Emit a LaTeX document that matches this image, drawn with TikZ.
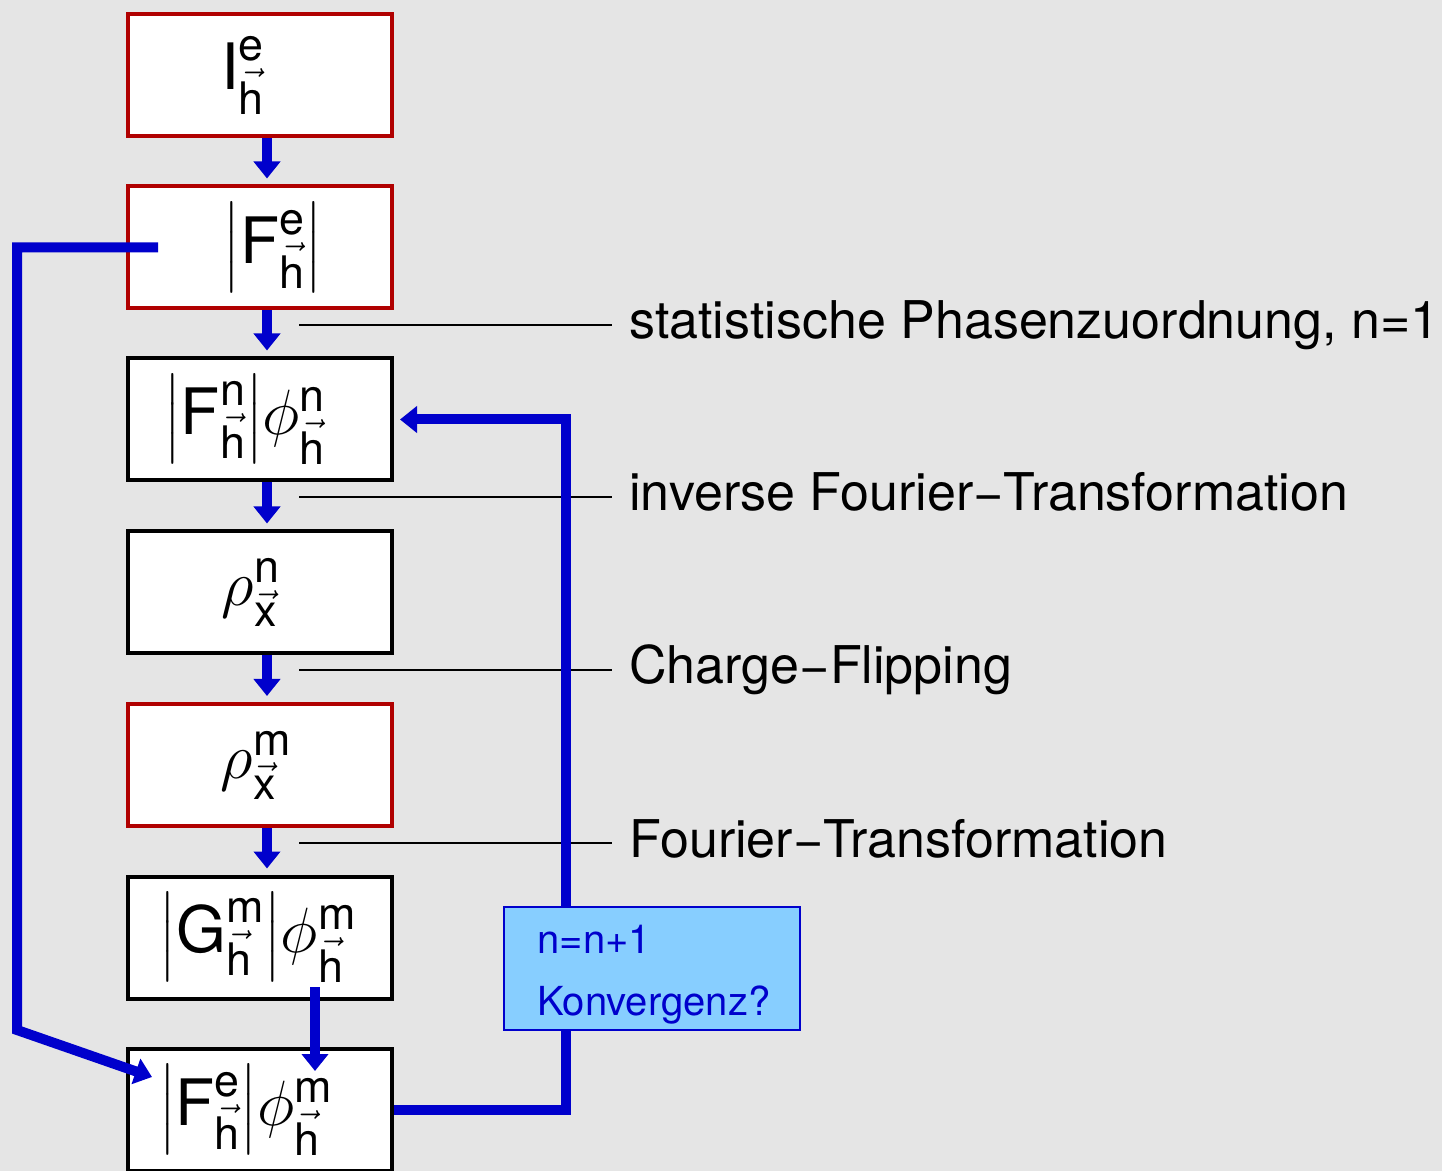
\RequirePackage{fix-cm}
\documentclass[tikz,border=0pt]{standalone}
\usepackage{amsmath}
\usepackage{fontspec}
\setmainfont{TeX Gyre Heros}
\usetikzlibrary{arrows.meta}
\definecolor{bg}{RGB}{229,229,229}
\definecolor{boxred}{RGB}{176,0,0}
\definecolor{flowblue}{RGB}{0,0,204}
\definecolor{convfill}{RGB}{135,206,255}
\newcommand{\tx}[1]{\text{#1}}
\newcommand{\hv}{\vec{\tx{h}}}
\newcommand{\xv}{\vec{\tx{x}}}
\newcommand{\absv}[1]{{\left|#1\right|}}
\begin{document}
\begin{tikzpicture}[x=0.5pt,y=-0.5pt,
  stagebox/.style={draw=black, line width=2pt, fill=white, minimum width=132pt, minimum height=61pt, inner sep=0pt, font=\fontsize{32}{34}\selectfont},
  redbox/.style={stagebox, draw=boxred},
  flow/.style={draw=flowblue, line width=5pt, -{Triangle[width=13pt,length=8.5pt]}},
  loopline/.style={draw=flowblue, line width=5pt, line join=miter},
  looparrow/.style={loopline, -{Triangle[width=13pt,length=8.5pt]}},
  guide/.style={draw=black, line width=1.25pt},
  steplabel/.style={anchor=base west, inner sep=0pt, font=\fontsize{26}{28}\selectfont},
  convbox/.style={draw=flowblue, line width=1pt, fill=convfill, minimum width=148pt, minimum height=61.5pt, inner sep=0pt},
  convtext/.style={anchor=base west, inner sep=0pt, text=flowblue, font=\fontsize{20}{22}\selectfont}]
\fill[bg] (0,0) rectangle (1442,1171);
\useasboundingbox (0,0) rectangle (1442,1171);
\clip (0,0) rectangle (1442,1171);

% boxes
\node[redbox]   (b1) at (260,75)    {$\tx{I}^{\tx{e}}_{\hv}$\kern17pt};
\node[redbox]   (b2) at (260,247.5) {\kern13pt$\absv{\tx{F}^{\tx{e}}_{\hv}}$};
\node[stagebox] (b3) at (260,419.5) {$\absv{\tx{F}^{\tx{n}}_{\hv}}\phi^{\tx{n}}_{\hv}$\kern15pt};
\node[stagebox] (b4) at (260,592.5) {$\rho^{\tx{n}}_{\xv}$\kern9pt};
\node[redbox]   (b5) at (260,765)   {$\rho^{\tx{m}}_{\xv}$\kern4pt};
\node[stagebox] (b6) at (260,937.5) {$\absv{\tx{G}^{\tx{m}}_{\hv}}\phi^{\tx{m}}_{\hv}$\kern2pt};
\node[stagebox] (b7) at (260,1110)  {$\absv{\tx{F}^{\tx{e}}_{\hv}}\phi^{\tx{m}}_{\hv}$\kern14pt};

% flow arrows
\draw[flow] ([xshift=3.5pt]b1.south) -- ([xshift=3.5pt,yshift=3pt]b2.north);
\draw[flow] ([xshift=3.5pt]b2.south) -- ([xshift=3.5pt,yshift=3pt]b3.north);
\draw[flow] ([xshift=3.5pt]b3.south) -- ([xshift=3.5pt,yshift=3pt]b4.north);
\draw[flow] ([xshift=3.5pt]b4.south) -- ([xshift=3.5pt,yshift=3pt]b5.north);
\draw[flow] ([xshift=3.5pt]b5.south) -- ([xshift=3.5pt,yshift=3pt]b6.north);
\draw[flow] ([xshift=27.5pt,yshift=6.75pt]b6.south) -- ([xshift=27.5pt,yshift=-12pt]b7.north);

% guide lines and labels
\coordinate (g1s) at (299,325); \coordinate (g1e) at (612,325);
\coordinate (g2s) at (299,497); \coordinate (g2e) at (612,497);
\coordinate (g3s) at (299,670); \coordinate (g3e) at (612,670);
\coordinate (g4s) at (299,843); \coordinate (g4e) at (612,843);
\draw[guide] (g1s) -- (g1e);
\draw[guide] (g2s) -- (g2e);
\draw[guide] (g3s) -- (g3e);
\draw[guide] (g4s) -- (g4e);
\node[steplabel] (l1) at (629,339) {statistische Phasenzuordnung, n=1};
\node[steplabel] (l2) at (629,511) {inverse Fourier−Transformation};
\node[steplabel] (l3) at (629,684) {Charge−Flipping};
\node[steplabel] (l4) at (629,857) {Fourier−Transformation};

% left feedback loop
\coordinate (lc1) at (17,247.5);
\coordinate (lc2) at (17,1030);
\draw[looparrow] ([xshift=-51pt]b2.center) -- (lc1) -- (lc2) -- ([xshift=-54pt,yshift=16.5pt]b7.center);

% right iteration loop
\coordinate (rturn) at (566,700);
\draw[looparrow] (b7.east) -| (rturn) |- ([xshift=3pt]b3.east);

% convergence box
\node[convbox] (cv) at (652,968.5) {};
\node[convtext] (cv1) at (537,953) {n=n+1};
\node[convtext] (cv2) at (537,1015) {Konvergenz?};
\end{tikzpicture}
\end{document}
